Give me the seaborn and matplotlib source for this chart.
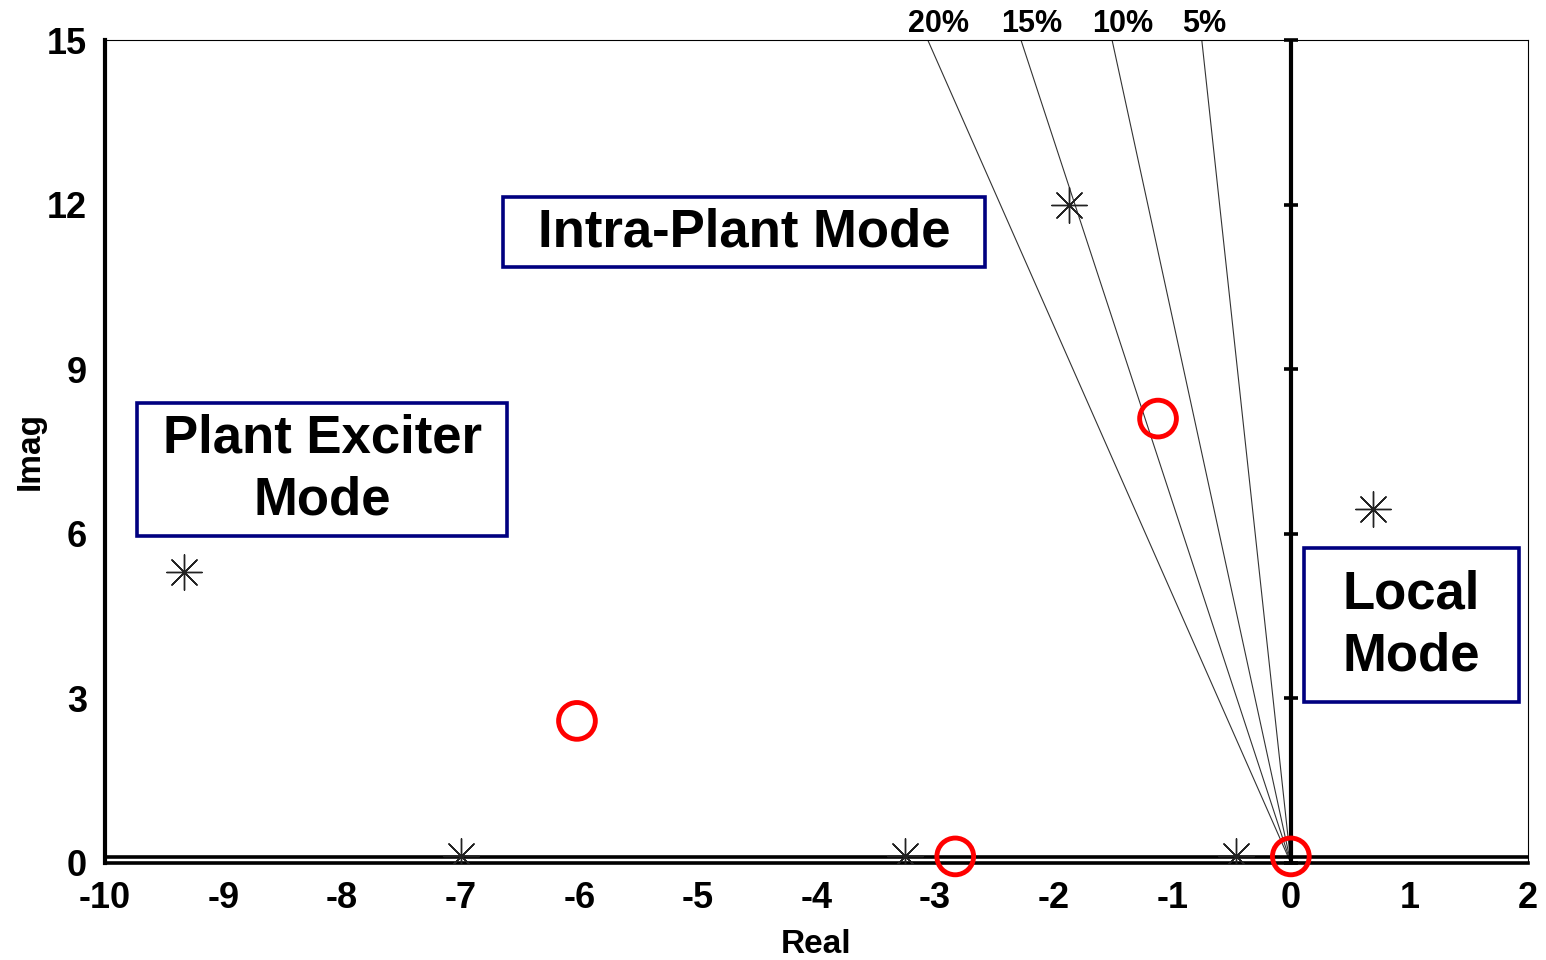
import numpy as np
import pandas as pd
import matplotlib
matplotlib.use("Agg")
import matplotlib.pyplot as plt
import seaborn as sns
from matplotlib.patches import Rectangle

# ---- data ----
open_loop_real = [-9.33, -7.0, -3.25, -1.87, -0.46, 0.69]
open_loop_imag = [5.30, 0.12, 0.12, 11.99, 0.12, 6.46]
closed_loop_real = [-6.02, -2.83, -1.12, 0.0]
closed_loop_imag = [2.59, 0.12, 8.10, 0.12]
damping_ratios = [0.20, 0.15, 0.10, 0.05]
damping_labels = ["20%", "15%", "10%", "5%"]
x_ticks = list(range(-10, 3))
y_ticks = [0, 3, 6, 9, 12, 15]
mode_labels = ["Intra-Plant Mode", "Plant Exciter\nMode", "Local\nMode"]
mode_boxes = [(-6.64, 10.86, -2.58, 12.14), (-9.73, 5.96, -6.61, 8.38), (0.11, 2.93, 1.92, 5.74)]

sns.set_style("white")
plt.rcParams['font.family'] = ['Liberation Sans', 'DejaVu Sans']
plt.rcParams['font.weight'] = 'bold'
plt.rcParams['text.color'] = 'black'
plt.rcParams['axes.labelcolor'] = 'black'
plt.rcParams['xtick.color'] = 'black'
plt.rcParams['ytick.color'] = 'black'

fig = plt.figure(figsize=(15.46, 9.6), dpi=100)
ax = fig.add_axes([105/1546, 1-863/960, 1423/1546, 823/960])

df_open = pd.DataFrame({"Real": open_loop_real, "Imag": open_loop_imag})
df_closed = pd.DataFrame({"Real": closed_loop_real, "Imag": closed_loop_imag})

# damping lines
ymax = 15
for z, lab in zip(damping_ratios, damping_labels):
    xt = -z / np.sqrt(1 - z**2) * ymax
    ax.plot([0, xt], [0, ymax], color="#333333", lw=0.8, zorder=2)
    ax.text(xt - 0.17, ymax + 0.02, lab, ha="left", va="bottom", fontsize=22,
            fontweight="bold", color="black")

# axes lines
ax.axhline(0.11, color="black", lw=2.6, zorder=3)
ax.axvline(0, color="black", lw=3, zorder=3)
ax.plot([0]*len(y_ticks), y_ticks, marker="_", ms=10, mew=2.6, color="black",
        ls="none", zorder=3, clip_on=False)

sns.scatterplot(data=df_open, x="Real", y="Imag", marker=(8, 2, 0), s=650,
                color="#222222", linewidth=1.0, ax=ax, zorder=4, legend=False)
sns.scatterplot(data=df_closed, x="Real", y="Imag", marker="o", s=700,
                facecolor="none", edgecolor="#ff0000", linewidth=3.5, ax=ax,
                zorder=5, legend=False, clip_on=False)

for lab, (x0, y0, x1, y1) in zip(mode_labels, mode_boxes):
    ax.add_patch(Rectangle((x0, y0), x1 - x0, y1 - y0, facecolor="white",
                           edgecolor="#000080", lw=2.6, zorder=6))
    ax.text((x0 + x1) / 2, (y0 + y1) / 2, lab, ha="center", va="center",
            fontsize=38, fontweight="bold", linespacing=1.3, zorder=7,
            color="black")

ax.set_xlim(-10, 2)
ax.set_ylim(0, 15)
ax.set_xticks(x_ticks)
ax.set_yticks(y_ticks)
ax.set_xticklabels([str(t) for t in x_ticks])
ax.set_yticklabels([str(t) for t in y_ticks])
ax.tick_params(axis="both", direction="inout", length=14, width=2.6,
               labelsize=26, color="black", labelcolor="black")
ax.tick_params(axis="x", pad=6)
ax.tick_params(axis="y", pad=6)
for lbl in ax.get_xticklabels() + ax.get_yticklabels():
    lbl.set_fontweight("bold")

ax.spines["left"].set_linewidth(3)
ax.spines["bottom"].set_linewidth(2.6)
ax.spines["top"].set_linewidth(0.8)
ax.spines["right"].set_linewidth(0.8)
for s in ax.spines.values():
    s.set_color("black")
    s.set_zorder(3)

ax.set_xlabel("Real", fontsize=24, fontweight="bold", labelpad=9, color="black")
ax.set_ylabel("Imag", fontsize=24, fontweight="bold", labelpad=1, color="black")

fig.savefig("out.png", dpi=100, facecolor="white")
